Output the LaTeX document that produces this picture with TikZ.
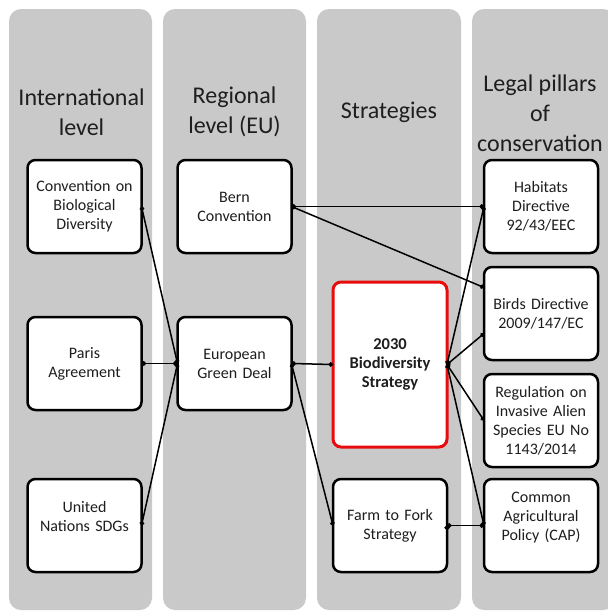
\documentclass[tikz,border=0pt]{standalone}
\usepackage{fontspec}
\setmainfont{Carlito}
\usetikzlibrary{positioning,arrows.meta}
\definecolor{pillargray}{RGB}{201,201,201}
\definecolor{strategyred}{RGB}{232,12,12}
\definecolor{inkgray}{RGB}{30,30,30}
\tikzset{main node/.style={rectangle,rounded corners=8pt,fill=white,draw=black,line width=2.5pt,
            text width=106pt,minimum height=93pt,inner sep=4pt,outer sep=0pt,align=center,
            text=inkgray,font=\fontsize{16}{19}\selectfont},
         key node/.style={main node,draw=strategyred,line width=3pt,minimum height=165pt,
            font=\fontsize{16.5}{19}\selectfont\bfseries},
         head node/.style={align=center,text=inkgray,font=\fontsize{24}{30}\selectfont},
         pillar/.style={fill=pillargray,rounded corners=12pt},
         link/.style={line width=1.5pt,{Circle[length=4.5pt]}-{Circle[length=4.5pt]}},
            }

\begin{document}
\begin{tikzpicture}[x=1pt,y=-1pt]
    \useasboundingbox (0,0) rectangle (608,611);
    \clip (0,0) rectangle (608,611);

    % the four columns
    \fill[pillar] (9,9) rectangle (152,610);
    \fill[pillar] (163,9) rectangle (306,610);
    \fill[pillar] (317,9) rectangle (461,610);
    \fill[pillar] (472,9) rectangle (615,610);

    \node[head node] (h1) at (81.5,112) {International\\level};
    \node[head node] (h2) at (234.5,112) {Regional\\level (EU)};
    \node[head node] (h3) at (389,112) {Strategies};
    \node[head node] (h4) at (540,113) {Legal pillars\\of\\conservation};

    \node[main node] (i1) at (84.5,206.5) {Convention on\\Biological\\Diversity};
    \node[main node] (i2) [below = 64pt of i1] {Paris\\Agreement};
    \node[main node] (i3) [below = 69pt of i2] {United\\Nations SDGs\\\mbox{}};

    \node[main node] (r1) [right = 36pt of i1] {Bern\\Convention};
    \node[main node] (r2) [right = 36pt of i2] {European\\Green Deal};

    \node[key node] (s1) at (390,364.5) {2030\\Biodiversity\\Strategy};
    \node[main node] (s2) [below = 32pt of s1] {Farm to Fork\\Strategy};

    \node[main node] (l1) at (541,206.5) {Habitats\\Directive\\92/43/EEC};
    \node[main node] (l2) [below = 14pt of l1] {Birds Directive\\2009/147/EC};
    \node[main node] (l3) [below = 14pt of l2] {Regulation on\\Invasive Alien\\Species EU No\\1143/2014};
    \node[main node] (l4) [below = 12pt of l3] {Common\\Agricultural\\Policy (CAP)\\\mbox{}};

    \path[draw,link]
    (r2.west) edge (i1.east)
    (r2.west) edge (i2.east)
    (r2.west) edge (i3.east)
    (r2.east) edge (s1.west)
    (r2.east) edge (s2.west)
    (r1.east) edge (l1.west)
    (r1.east) edge ([yshift=26pt]l2.west)
    (s1.east) edge (l1.west)
    (s1.east) edge ([yshift=-20pt]l2.west)
    (s1.east) edge (l3.west)
    (s1.east) edge (l4.west)
    (s2.east) edge (l4.west);

\end{tikzpicture}
\end{document}
